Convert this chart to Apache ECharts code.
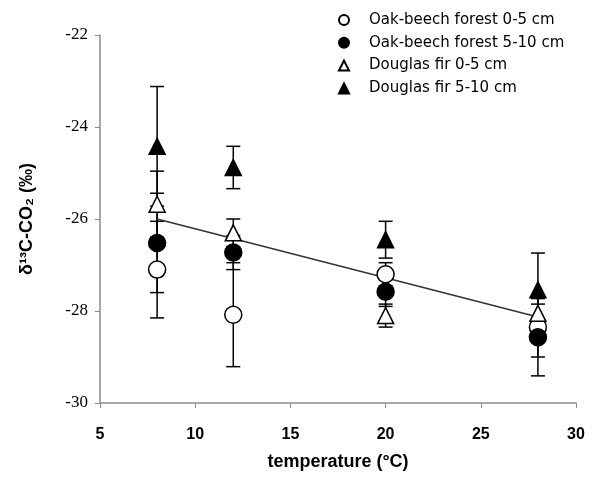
<!DOCTYPE html>
<html lang="en">
<head>
    <meta charset="UTF-8">
    <title>d13C-CO2 vs temperature</title>
    <style>
        body { margin: 0; overflow: hidden; background: #fff; }
        #chart { width: 607px; height: 483px; }
    </style>
</head>
<body>
    <div id="chart"></div>
    <script src="https://cdn.jsdelivr.net/npm/echarts@6/dist/echarts.min.js"></script>
    <script>
        // data
        var temps = [8, 12, 20, 28];
        var oak05 = [-27.1, -28.08, -27.2, -28.35];
        var oak05Err = [1.05, 1.13, 0.25, 0.65];
        var oak510 = [-26.52, -26.73, -27.58, -28.57];
        var oak510Err = [1.08, 0.37, 0.32, 0.84];
        var dou05 = [-25.68, -26.3, -28.1, -28.05];
        var dou05Err = [0.72, 0.3, 0.25, 0.2];
        var dou510 = [-24.42, -24.88, -26.45, -27.54];
        var dou510Err = [1.3, 0.46, 0.4, 0.8];
        var trendX = [8, 28];
        var trendY = [-26.0, -28.13];
        var names = ['Oak-beech forest 0-5 cm', 'Oak-beech forest 5-10 cm', 'Douglas fir 0-5 cm', 'Douglas fir 5-10 cm'];

        var myChart = echarts.init(document.getElementById('chart'));

        function pts(ys) {
            return temps.map(function (t, i) { return [t, ys[i]]; });
        }
        function bars(ys, es) {
            return temps.map(function (t, i) { return [t, ys[i] - es[i], ys[i] + es[i]]; });
        }

        // vertical error bar with caps
        function renderErr(params, api) {
            var lo = api.coord([api.value(0), api.value(1)]);
            var hi = api.coord([api.value(0), api.value(2)]);
            var w = 7;
            var st = { stroke: '#000', lineWidth: 1.5 };
            return {
                type: 'group',
                children: [
                    { type: 'line', shape: { x1: hi[0], y1: hi[1], x2: lo[0], y2: lo[1] }, style: st },
                    { type: 'line', shape: { x1: hi[0] - w, y1: hi[1], x2: hi[0] + w, y2: hi[1] }, style: st },
                    { type: 'line', shape: { x1: lo[0] - w, y1: lo[1], x2: lo[0] + w, y2: lo[1] }, style: st }
                ]
            };
        }

        function errSeries(ys, es) {
            return {
                type: 'custom',
                renderItem: renderErr,
                silent: true,
                z: 1,
                data: bars(ys, es)
            };
        }

        function pointSeries(name, ys, sym, filled, size) {
            return {
                name: name,
                type: 'scatter',
                symbol: sym,
                symbolSize: size,
                z: 3,
                itemStyle: {
                    color: filled ? '#000' : '#fff',
                    borderColor: '#000',
                    borderWidth: 1.5,
                    opacity: 1
                },
                data: pts(ys)
            };
        }

        var option = {
            animation: false,
            grid: { left: 100, right: 31, top: 35, bottom: 80 },
            legend: {
                orient: 'vertical',
                left: 333,
                top: 7,
                itemWidth: 10,
                itemHeight: 10,
                itemGap: 6.8,
                formatter: function (n) { return '{g|}' + n; },
                textStyle: {
                    fontFamily: 'DejaVu Sans', fontSize: 15, color: '#000', lineHeight: 16,
                    rich: { g: { width: 15 } }
                },
                data: names
            },
            xAxis: {
                type: 'value',
                min: 5, max: 30, interval: 5,
                name: 'temperature (°C)',
                nameLocation: 'middle',
                nameGap: 50,
                nameTextStyle: { fontFamily: 'Liberation Sans', fontWeight: 'bold', fontSize: 18, color: '#000' },
                axisLine: { lineStyle: { color: '#8c8c8c', width: 1.5 } },
                axisTick: { show: true, length: 5, lineStyle: { color: '#8c8c8c' } },
                axisLabel: { margin: 24, fontFamily: 'Liberation Sans', fontWeight: 'bold', fontSize: 16, color: '#000' },
                splitLine: { show: false }
            },
            yAxis: {
                type: 'value',
                min: -30, max: -22, interval: 2,
                name: 'δ¹³C-CO₂ (‰)',
                nameLocation: 'middle',
                nameGap: 64,
                nameTextStyle: { fontFamily: 'Liberation Sans', fontWeight: 'bold', fontSize: 18, color: '#000' },
                axisLine: { show: true, lineStyle: { color: '#8c8c8c', width: 1.5 } },
                axisTick: { show: true, length: 5, lineStyle: { color: '#8c8c8c' } },
                axisLabel: { margin: 12, fontFamily: 'Liberation Serif', fontSize: 17, color: '#000' },
                splitLine: { show: false }
            },
            series: [
                {
                    type: 'line',
                    silent: true,
                    symbol: 'none',
                    z: 2,
                    lineStyle: { color: '#333', width: 1.5 },
                    data: trendX.map(function (x, i) { return [x, trendY[i]]; })
                },
                errSeries(oak05, oak05Err),
                errSeries(oak510, oak510Err),
                errSeries(dou05, dou05Err),
                errSeries(dou510, dou510Err),
                pointSeries(names[0], oak05, 'circle', false, 17),
                pointSeries(names[1], oak510, 'circle', true, 17),
                pointSeries(names[2], dou05, 'triangle', false, 16),
                pointSeries(names[3], dou510, 'triangle', true, 16)
            ]
        };

        myChart.setOption(option);
    </script>
</body>
</html>
